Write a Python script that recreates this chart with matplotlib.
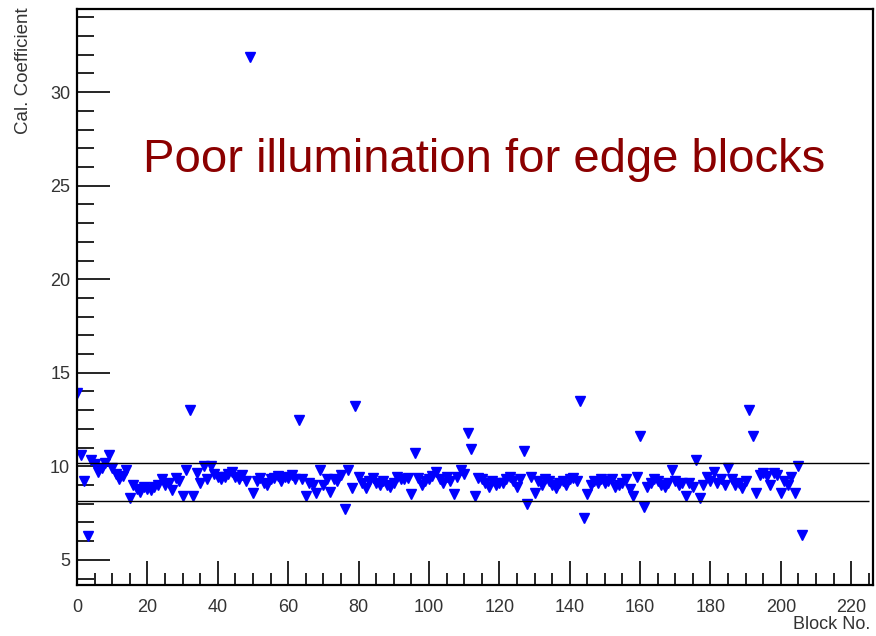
import matplotlib
matplotlib.use('Agg')
import matplotlib.pyplot as plt
from matplotlib.ticker import MultipleLocator

# calibration coefficient per block
cal = [13.9, 10.6, 9.2, 6.3, 10.35, 10.1, 9.7, 9.9, 10.2, 10.6,
       9.9, 9.6, 9.3, 9.5, 9.8, 8.3, 9.0, 8.8, 8.65, 8.9,
       8.8, 8.75, 8.9, 9.0, 9.3, 9.0, 9.1, 8.75, 9.4, 9.2,
       8.4, 9.8, 13.0, 8.4, 9.65, 9.1, 10.0, 9.3, 10.0, 9.6,
       9.45, 9.3, 9.45, 9.6, 9.7, 9.45, 9.3, 9.55, 9.2, 31.9,
       8.6, 9.2, 9.4, 9.1, 9.0, 9.3, 9.4, 9.5, 9.2, 9.45,
       9.4, 9.55, 9.3, 12.5, 9.3, 8.4, 9.1, 9.0, 8.6, 9.8,
       9.0, 9.3, 8.65, 9.3, 9.2, 9.55, 7.7, 9.8, 8.85, 13.2,
       9.45, 9.1, 8.85, 9.2, 9.4, 9.1, 9.0, 9.2, 9.0, 8.9,
       9.1, 9.45, 9.3, 9.3, 9.4, 8.5, 10.7, 9.4, 9.0, 9.2,
       9.3, 9.5, 9.7, 9.3, 9.1, 9.45, 9.2, 8.5, 9.45, 9.8,
       9.6, 11.8, 10.9, 8.4, 9.4, 9.3, 9.1, 8.9, 9.2, 9.0,
       9.1, 9.1, 9.3, 9.45, 9.2, 8.9, 9.3, 10.8, 8.0, 9.45,
       8.6, 9.2, 9.0, 9.3, 9.2, 9.0, 8.85, 9.1, 9.2, 9.0,
       9.3, 9.4, 9.2, 13.5, 7.25, 8.5, 9.0, 9.2, 9.1, 9.3,
       9.1, 9.2, 9.3, 8.9, 9.0, 9.1, 9.3, 8.8, 8.4, 9.45,
       11.6, 7.8, 8.9, 9.1, 9.3, 9.2, 9.0, 8.9, 9.1, 9.8,
       9.2, 9.0, 9.1, 8.4, 9.1, 8.9, 10.35, 8.3, 9.0, 9.45,
       9.2, 9.7, 9.1, 9.3, 9.0, 9.9, 9.3, 9.0, 9.1, 8.85,
       9.2, 13.0, 11.6, 8.6, 9.55, 9.65, 9.5, 9.0, 9.65, 9.55,
       8.6, 9.2, 9.0, 9.45, 8.6, 10.0, 6.35]
blocks = list(range(len(cal)))

# acceptance band
band_hi = 10.19
band_lo = 8.16

plt.rcParams['font.family'] = ['Liberation Sans', 'DejaVu Sans']

fig = plt.figure(figsize=(8.76, 6.36), dpi=100)
ax = fig.add_axes([0.088, 0.080, 0.909, 0.906])

ax.plot(blocks, cal, linestyle='none', marker='v', markersize=7.5,
        color='#0000ff', markeredgecolor='#0000ff')
ax.hlines([band_hi, band_lo], 0, 225, colors='black', linewidth=1.0)

ax.set_xlim(0, 226.3)
ax.set_ylim(3.65, 34.45)
ax.xaxis.set_major_locator(MultipleLocator(20))
ax.xaxis.set_minor_locator(MultipleLocator(5))
ax.yaxis.set_major_locator(MultipleLocator(5))
ax.yaxis.set_minor_locator(MultipleLocator(1))
ax.tick_params(which='both', direction='in', top=False, right=False,
               labelsize=13, width=1.2, labelcolor='#333333')
ax.tick_params(axis='y', which='major', length=24, pad=5)
ax.tick_params(axis='y', which='minor', length=12)
ax.tick_params(axis='x', which='major', length=17, pad=10)
ax.tick_params(axis='x', which='minor', length=9)
ax.set_yticks([5, 10, 15, 20, 25, 30])
for s in ax.spines.values():
    s.set_linewidth(1.6)

fig.text(0.027, 0.988, 'Cal. Coefficient', rotation=90, ha='center',
         va='top', fontsize=13.5, color='#333333')
fig.text(0.993, 0.005, 'Block No.', ha='right', va='bottom',
         fontsize=13, color='#333333')

ax.text(0.511, 0.738, 'Poor illumination for edge blocks', transform=ax.transAxes,
        ha='center', va='center', fontsize=34, color='#8b0000')

fig.savefig('out.png', dpi=100)
